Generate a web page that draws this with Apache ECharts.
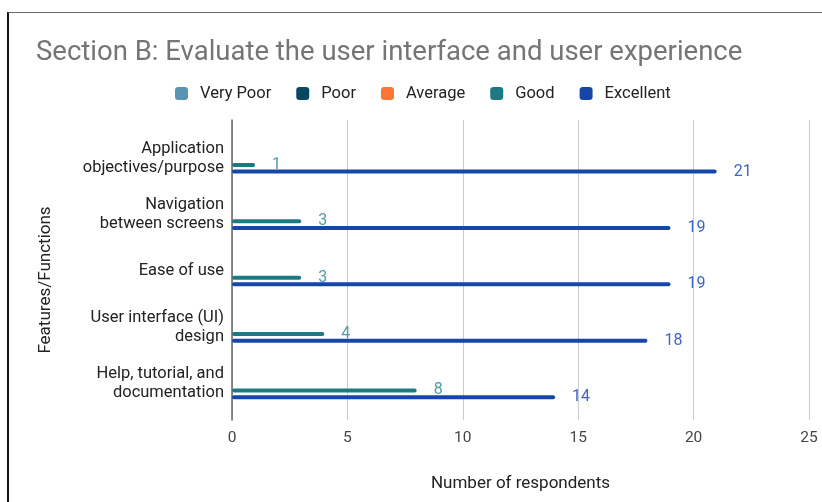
<!DOCTYPE html>
<html>
<head>
<meta charset="utf-8">
<script src="https://cdn.jsdelivr.net/npm/echarts@6/dist/echarts.min.js"></script>
<style>
html,body{margin:0;padding:0;background:#fff;}
#frame{position:absolute;left:7px;top:12px;width:815px;height:490px;border-top:1px solid #6a6a6a;border-left:2px solid #111;box-sizing:border-box;}
#chart{position:absolute;left:0;top:0;width:822px;height:502px;}
</style>
</head>
<body>
<div id="frame"></div>
<div id="chart"></div>
<script>
const titleText = 'Section B: Evaluate the user interface and user experience';
const categories = ['Application\nobjectives/purpose', 'Navigation\nbetween screens', 'Ease of use', 'User interface (UI)\ndesign', 'Help, tutorial, and\ndocumentation'];
const seriesNames = ['Very Poor', 'Poor', 'Average', 'Good', 'Excellent'];
const veryPoor = [0, 0, 0, 0, 0];
const poor = [0, 0, 0, 0, 0];
const average = [0, 0, 0, 0, 0];
const good = [1, 3, 3, 4, 8];
const excellent = [21, 19, 19, 18, 14];
const xTicks = [0, 5, 10, 15, 20, 25];
const xName = 'Number of respondents';
const yName = 'Features/Functions';

const colors = ['#5b93b2', '#0a4862', '#ff7433', '#1d7a83', '#1546a8'];
const labelColors = [null, null, null, '#4e9da5', '#3d66c6'];
const values = [veryPoor, poor, average, good, excellent];
const FONT = 'Roboto';

const chart = echarts.init(document.getElementById('chart'), null, {renderer: 'canvas'});

const series = seriesNames.map((name, i) => ({
  name: name,
  type: 'bar',
  xAxisIndex: 1,
  yAxisIndex: 1,
  data: values[i],
  barWidth: 4,
  barGap: '67%',
  itemStyle: {color: colors[i], borderRadius: 2},
  label: {
    show: labelColors[i] !== null,
    position: 'right',
    distance: 17,
    color: labelColors[i] || '#000',
    fontFamily: FONT,
    fontSize: 16
  },
  emphasis: {disabled: true}
}));

chart.setOption({
  animation: false,
  textStyle: {fontFamily: FONT},
  title: {
    text: titleText,
    left: 31,
    top: 34,
    textStyle: {color: '#757575', fontSize: 27.5, fontWeight: 'normal', fontFamily: FONT}
  },
  legend: {
    data: seriesNames,
    left: 170,
    top: 80,
    itemWidth: 13,
    itemHeight: 13,
    itemGap: 25,
    icon: 'roundRect',
    textStyle: {color: '#222', fontSize: 16.5, fontFamily: FONT, padding: [0, 0, 0, 7]}
  },
  grid: [
    {left: 232, right: 13, top: 120, bottom: 82},
    {left: 232, right: 13, top: 130, bottom: 90}
  ],
  xAxis: [
    {
      gridIndex: 0, type: 'value', min: xTicks[0], max: xTicks[xTicks.length - 1], interval: xTicks[1] - xTicks[0],
      axisLine: {show: false}, axisTick: {show: false},
      splitLine: {show: true, lineStyle: {color: '#cccccc', width: 1}},
      axisLabel: {color: '#444', fontSize: 15.5, margin: 10, fontFamily: FONT},
      name: xName, nameLocation: 'middle', nameGap: 55,
      nameTextStyle: {color: '#222', fontSize: 17, fontFamily: FONT}
    },
    {
      gridIndex: 1, type: 'value', min: xTicks[0], max: xTicks[xTicks.length - 1], interval: xTicks[1] - xTicks[0],
      show: false
    }
  ],
  yAxis: [
    {
      gridIndex: 0, type: 'value', min: 0, max: 1,
      axisLine: {show: true, lineStyle: {color: '#666', width: 1.5}},
      axisTick: {show: false}, axisLabel: {show: false}, splitLine: {show: false},
      name: yName, nameLocation: 'middle', nameGap: 178, nameRotate: 90,
      nameTextStyle: {color: '#222', fontSize: 17, fontFamily: FONT, padding: [0, 20, 0, 0]}
    },
    {
      gridIndex: 1, type: 'category', data: categories, inverse: true,
      axisLine: {show: false}, axisTick: {show: false}, splitLine: {show: false},
      axisLabel: {color: '#222', fontSize: 16.5, lineHeight: 19, margin: 8, fontFamily: FONT, align: 'right'}
    }
  ],
  series: series
});
</script>
</body>
</html>
